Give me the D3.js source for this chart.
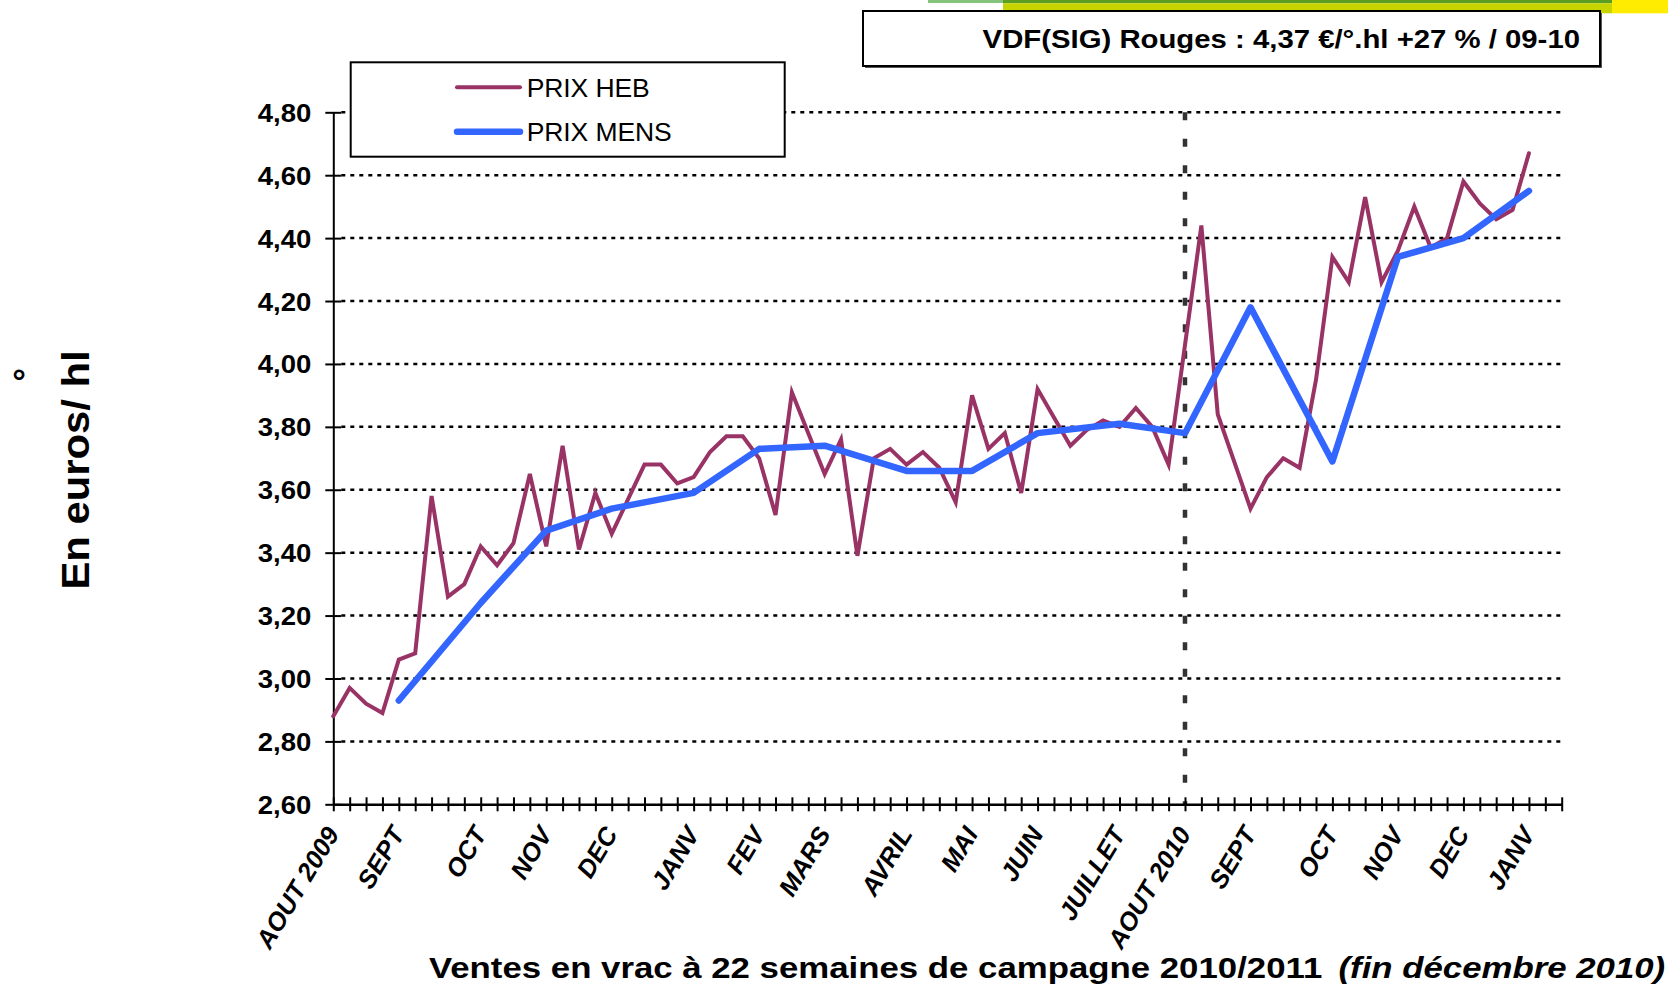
<!DOCTYPE html>
<html><head><meta charset="utf-8">
<script src="https://cdn.jsdelivr.net/npm/d3@7"></script>
<style>
body{margin:0;background:#fff;}
svg{display:block;}
text{font-family:"Liberation Sans",Arial,Helvetica,sans-serif;}
</style>
</head><body>
<svg id="chart" width="1668" height="994"></svg>
<script>
// ---------- DATA ----------
const weekCount = 76; // weekly category slots on the x axis
const prixHeb = [2.88,2.97,2.92,2.89,3.06,3.08,3.58,3.26,3.30,3.42,
                 3.36,3.43,3.65,3.42,3.74,3.41,3.59,3.46,3.57,3.68,
                 3.68,3.62,3.64,3.72,3.77,3.77,3.70,3.52,3.91,3.78,
                 3.65,3.76,3.39,3.70,3.73,3.68,3.72,3.67,3.56,3.90,
                 3.73,3.78,3.59,3.92,3.83,3.74,3.79,3.82,3.80,3.86,
                 3.80,3.68,4.06,4.44,3.84,3.69,3.54,3.64,3.70,3.67,
                 3.95,4.34,4.26,4.53,4.26,4.36,4.50,4.37,4.40,4.58,
                 4.51,4.46,4.49,4.67];
const monthLabels = ["AOUT 2009","SEPT","OCT","NOV","DEC","JANV","FEV","MARS","AVRIL","MAI",
                     "JUIN","JUILLET","AOUT 2010","SEPT","OCT","NOV","DEC","JANV"];
const monthWeek   = [0,4,9,13,17,22,26,30,35,39,43,48,52,56,61,65,69,73];
const prixMens    = [null,2.93,3.24,3.47,3.54,3.59,3.73,3.74,3.66,3.66,
                     3.78,3.81,3.78,4.18,3.69,4.34,4.40,4.55];
const yTicks = [2.6,2.8,3.0,3.2,3.4,3.6,3.8,4.0,4.2,4.4,4.6,4.8];
const campaignStartWeek = 52; // AOUT 2010
const seriesNames = ["PRIX HEB","PRIX MENS"];
const boxTitle = "VDF(SIG) Rouges : 4,37 €/°.hl +27 % / 09-10";
const yTitle = "En euros/ hl";
const xTitleMain = "Ventes en vrac à 22 semaines de campagne 2010/2011";
const xTitleItalic = "(fin décembre 2010)";

// ---------- SETUP ----------
const svg = d3.select("#chart");
const colHeb = "#993366", colMens = "#3366FF";
const x0 = 333.3, x1 = 1561.7, yTop = 112.3, yBot = 804.3;

const x = d3.scalePoint().domain(d3.range(weekCount)).range([x0, x1]);
const y = d3.scaleLinear().domain([2.6, 4.8]).range([yBot, yTop]);
const loc = d3.formatLocale({decimal:",", thousands:" ", grouping:[3], currency:["","€"]});
const fmt = loc.format(".2f");

// top decoration
const deco = svg.append("g");
deco.append("rect").attr("x",928).attr("y",0).attr("width",75).attr("height",3).attr("fill","#86c47e");
deco.append("rect").attr("x",1003).attr("y",0).attr("width",609).attr("height",3.3).attr("fill","#5c9e22");
deco.append("rect").attr("x",1003).attr("y",3.3).attr("width",609).attr("height",10).attr("fill","#c8d400");
deco.append("rect").attr("x",1612).attr("y",0).attr("width",56).attr("height",13.3).attr("fill","#ffec00");

// gridlines
svg.append("g").selectAll("line").data(yTicks.filter(d => d > 2.6)).join("line")
  .attr("x1", x0 + 8).attr("x2", x1)
  .attr("y1", d => y(d)).attr("y2", d => y(d))
  .attr("stroke", "#000").attr("stroke-width", 2.5).attr("stroke-dasharray", "4,5");

// vertical campaign separator
svg.append("line")
  .attr("x1", x(campaignStartWeek)).attr("x2", x(campaignStartWeek))
  .attr("y1", y(4.8)).attr("y2", y(2.6))
  .attr("stroke", "#333").attr("stroke-width", 4.5).attr("stroke-dasharray", "8,18.5");

// y axis
const gy = svg.append("g").attr("transform", `translate(${x0},0)`)
  .call(d3.axisLeft(y).tickValues(yTicks).tickSize(8).tickSizeOuter(0).tickFormat(fmt));
gy.select(".domain").attr("stroke", "#000").attr("stroke-width", 2);
gy.selectAll(".tick line").attr("x1", 8).attr("stroke", "#000").attr("stroke-width", 2);
gy.selectAll(".tick text")
  .attr("x", null).attr("dy", "0.36em")
  .attr("transform", "translate(-22,0) scale(1.1,1)")
  .attr("font-size", 25).attr("font-weight", "bold").attr("fill", "#000")
  .attr("font-family", "'Liberation Sans',Arial,sans-serif");

// x axis
const gx = svg.append("g").attr("transform", `translate(0,${yBot})`)
  .call(d3.axisBottom(x).tickSize(7).tickSizeOuter(0).tickFormat(""));
gx.select(".domain").attr("stroke", "#000").attr("stroke-width", 2.5);
gx.selectAll(".tick line").attr("y1", -7).attr("stroke", "#000").attr("stroke-width", 2);

// month labels
svg.append("g").selectAll("text").data(monthLabels).join("text")
  .attr("transform", (d, i) => `translate(${x(monthWeek[i]) - 9},${yBot + 20}) rotate(-59)`)
  .attr("text-anchor", "end").attr("dy", "0.72em")
  .attr("font-size", 25.5).attr("font-weight", "bold").attr("font-style", "italic")
  .text(d => d);

// series
const lineHeb = d3.line().x((d, i) => x(i)).y(d => y(d));
svg.append("path").datum(prixHeb).attr("d", lineHeb)
  .attr("fill", "none").attr("stroke", colHeb).attr("stroke-width", 4)
  .attr("stroke-linejoin", "miter").attr("stroke-linecap", "round");

const mensPts = prixMens.map((v, i) => ({w: monthWeek[i], v})).filter(d => d.v != null);
const lineMens = d3.line().x(d => x(d.w)).y(d => y(d.v));
svg.append("path").datum(mensPts).attr("d", lineMens)
  .attr("fill", "none").attr("stroke", colMens).attr("stroke-width", 6.5)
  .attr("stroke-linejoin", "round").attr("stroke-linecap", "round");

// legend
const lg = svg.append("g");
lg.append("rect").attr("x", 350.7).attr("y", 62.3).attr("width", 434).attr("height", 94.4)
  .attr("fill", "#fff").attr("stroke", "#000").attr("stroke-width", 2);
const legY = [87.3, 131.7];
const legW = [4, 6.5];
const legC = [colHeb, colMens];
seriesNames.forEach((n, i) => {
  lg.append("line").attr("x1", 457).attr("x2", 520).attr("y1", legY[i]).attr("y2", legY[i])
    .attr("stroke", legC[i]).attr("stroke-width", legW[i]).attr("stroke-linecap", "round");
  lg.append("text").attr("x", 526.7).attr("y", legY[i] + 9.5)
    .attr("font-size", 26.5).attr("letter-spacing", -0.1).attr("fill", "#000").text(n);
});

// title box
const tb = svg.append("g");
tb.append("rect").attr("x", 865).attr("y", 13).attr("width", 737).attr("height", 55).attr("fill", "#555");
tb.append("rect").attr("x", 863).attr("y", 11).attr("width", 737).attr("height", 55)
  .attr("fill", "#fff").attr("stroke", "#000").attr("stroke-width", 2);
tb.append("text").attr("transform", "translate(1580,47.7) scale(1.15,1)")
  .attr("text-anchor", "end").attr("font-size", 25.5).attr("font-weight", "bold").text(boxTitle);

// y title
svg.append("text").attr("transform", "translate(89,470) rotate(-90) scale(1.1,1)")
  .attr("text-anchor", "middle").attr("font-size", 38).attr("font-weight", "bold").text(yTitle);
svg.append("text").attr("x", 19).attr("y", 393).attr("text-anchor", "middle")
  .attr("font-size", 34).attr("font-weight", "bold").text("°");

// x title
const xt = svg.append("text").attr("transform", "translate(429,978) scale(1.16,1)")
  .attr("font-size", 30).attr("font-weight", "bold");
xt.append("tspan").text(xTitleMain);
xt.append("tspan").attr("dx", 14).attr("font-style", "italic").text(xTitleItalic);
</script>
</body></html>
